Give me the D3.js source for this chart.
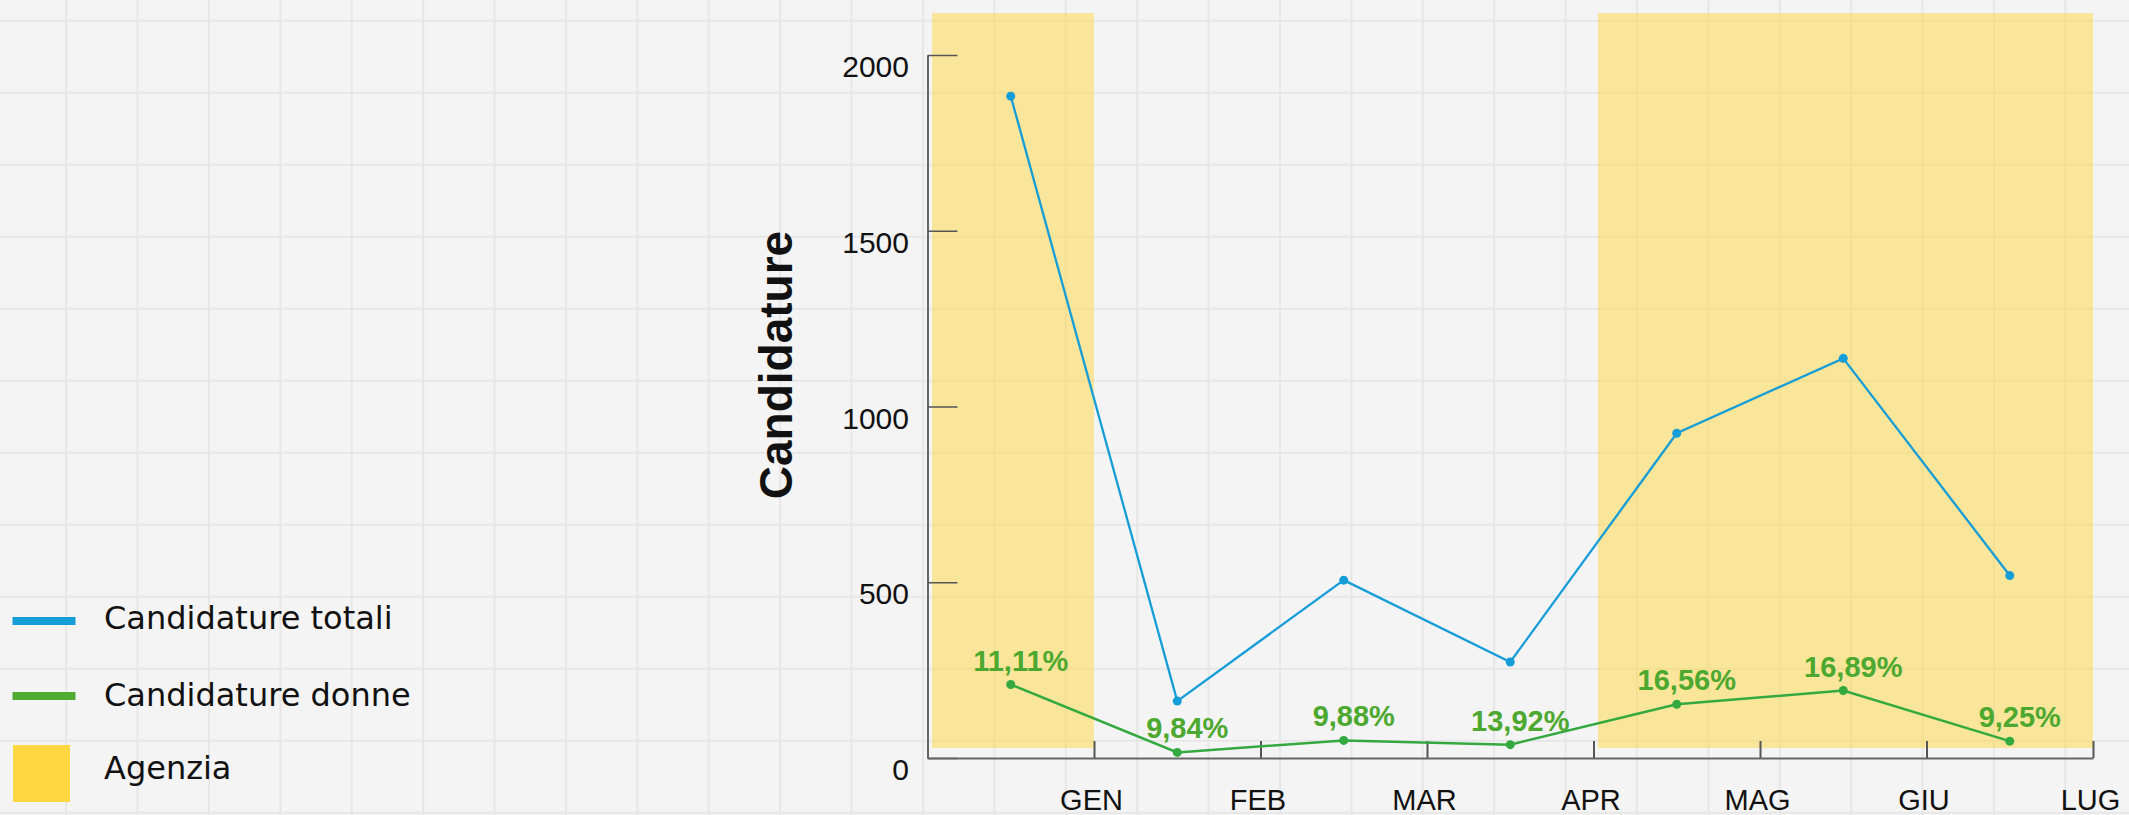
<!DOCTYPE html>
<html>
<head>
<meta charset="utf-8">
<script src="https://cdn.jsdelivr.net/npm/d3@7"></script>
<style>
  html, body { margin: 0; padding: 0; background: #F4F4F4; }
  svg { display: block; }
</style>
</head>
<body>
<svg id="chart" width="2129" height="815"></svg>
<script>
// ---- data ----
const months = ["GEN", "FEB", "MAR", "APR", "MAG", "GIU", "LUG"];
const totali = [1883, 162, 506, 273, 924, 1137, 519];
const donne = [209, 16, 50, 38, 153, 192, 48];
const percentuali = ["11,11%", "9,84%", "9,88%", "13,92%", "16,56%", "16,89%", "9,25%"];
const agenziaPeriodi = [[0, 1], [4, 7]];
const yTicks = [0, 500, 1000, 1500, 2000];
const legendItems = ["Candidature totali", "Candidature donne", "Agenzia"];

const W = 2129, H = 815;
const colBlue = "#159DD8", colGreen = "#33A940", colLabel = "#4CA82F", colYellow = "#FFD740";

const svg = d3.select("#chart");

// background grid
svg.append("rect").attr("width", W).attr("height", H).attr("fill", "#F4F4F4");
const grid = svg.append("g").attr("stroke", "#E7E7E7").attr("stroke-width", 2);
d3.range(-1, 31).forEach(k => {
  const gx = 66.2 + 71.4 * k;
  grid.append("line").attr("x1", gx).attr("x2", gx).attr("y1", 0).attr("y2", H);
});
d3.range(0, 12).forEach(k => {
  const gy = 20.8 + 72 * k;
  grid.append("line").attr("x1", 0).attr("x2", W).attr("y1", gy).attr("y2", gy);
});

// scales
const x = d3.scaleLinear().domain([0, months.length]).range([927.5, 2093]);
const y = d3.scaleLinear().domain([0, 2000]).range([758, 55]);

// agenzia rects
svg.append("g").selectAll("rect").data(agenziaPeriodi).join("rect")
  .attr("x", d => x(d[0]) + 4.5)
  .attr("width", d => x(d[1]) - x(d[0]) - 4.5)
  .attr("y", 13)
  .attr("height", 735)
  .attr("fill", colYellow)
  .attr("fill-opacity", 0.5);

// y axis
const yAxis = svg.append("g").attr("transform", `translate(${x(0)},0)`)
  .call(d3.axisLeft(y).tickValues(yTicks).tickFormat(d3.format("d"))
    .tickSizeInner(-30).tickSizeOuter(0).tickPadding(18.5));
yAxis.select(".domain").attr("stroke", "#666").attr("stroke-width", 2);
yAxis.selectAll(".tick line").attr("stroke", "#555").attr("stroke-width", 1.5);
yAxis.selectAll(".tick text").attr("dy", "21.5px")
  .attr("font-family", "'Liberation Sans', Arial, sans-serif").attr("font-size", 30).attr("fill", "#111");

// x axis
const xAxis = svg.append("g").attr("transform", `translate(0,${y(0)})`)
  .call(d3.axisBottom(x).tickValues(d3.range(1, months.length + 1))
    .tickFormat(i => months[i - 1]).tickSizeInner(-17).tickSizeOuter(0).tickPadding(0));
xAxis.select(".domain").attr("stroke", "#666").attr("stroke-width", 2);
xAxis.selectAll(".tick line").attr("stroke", "#555").attr("stroke-width", 2);
xAxis.selectAll(".tick text").attr("y", 52).attr("dy", 0).attr("dx", -3)
  .attr("font-family", "'Liberation Sans', Arial, sans-serif").attr("font-size", 29).attr("fill", "#111");

// y title
svg.append("text")
  .attr("transform", "translate(792,365) rotate(-90)")
  .attr("text-anchor", "middle")
  .attr("font-family", "'Liberation Sans', Arial, sans-serif")
  .attr("font-weight", "bold").attr("font-size", 46).attr("fill", "#111")
  .text("Candidature");

// lines
const line = d3.line().x((d, i) => x(i + 0.5)).y(d => y(d));
svg.append("path").datum(totali).attr("d", line).attr("fill", "none")
  .attr("stroke", colBlue).attr("stroke-width", 2.3);
svg.append("g").selectAll("circle").data(totali).join("circle")
  .attr("cx", (d, i) => x(i + 0.5)).attr("cy", d => y(d)).attr("r", 4.5).attr("fill", colBlue);

svg.append("path").datum(donne).attr("d", line).attr("fill", "none")
  .attr("stroke", colGreen).attr("stroke-width", 2.5);
svg.append("g").selectAll("circle").data(donne).join("circle")
  .attr("cx", (d, i) => x(i + 0.5)).attr("cy", d => y(d)).attr("r", 4.5).attr("fill", colGreen);

// percentage labels
svg.append("g").selectAll("text").data(donne).join("text")
  .attr("x", (d, i) => x(i + 0.5) + 10)
  .attr("y", d => y(d) - 14)
  .attr("text-anchor", "middle")
  .attr("font-family", "'Liberation Sans', Arial, sans-serif")
  .attr("font-weight", "bold").attr("font-size", 29).attr("fill", colLabel)
  .text((d, i) => percentuali[i]);

// legend
const lg = svg.append("g");
const legendY = [621, 696];
const legendTextY = [618, 695, 768];
lg.append("line").attr("x1", 12.5).attr("x2", 75.5).attr("y1", legendY[0]).attr("y2", legendY[0])
  .attr("stroke", colBlue).attr("stroke-width", 8);
lg.append("line").attr("x1", 12.5).attr("x2", 75.5).attr("y1", legendY[1]).attr("y2", legendY[1])
  .attr("stroke", "#4EAA32").attr("stroke-width", 8);
lg.append("rect").attr("x", 13).attr("y", 745).attr("width", 57).attr("height", 57).attr("fill", colYellow);
lg.selectAll("text").data(legendItems).join("text")
  .attr("x", 104).attr("y", (d, i) => legendTextY[i])
  .attr("dominant-baseline", "central")
  .attr("font-family", "'DejaVu Sans', sans-serif").attr("font-size", 32).attr("fill", "#111")
  .text(d => d);
</script>
</body>
</html>
